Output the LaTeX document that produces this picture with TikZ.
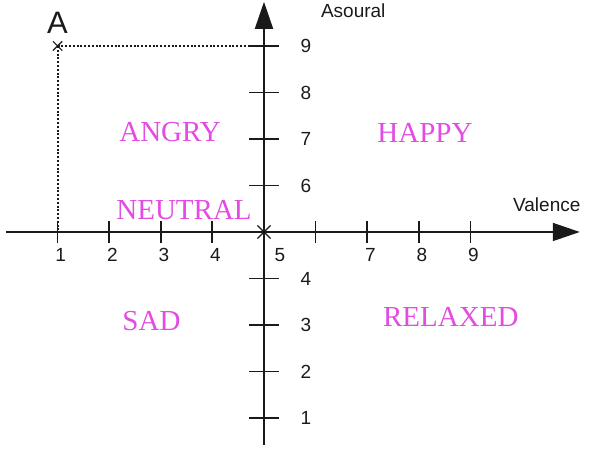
\documentclass[tikz,border=0pt]{standalone}
\usepackage{fontspec}
\setmainfont{Liberation Serif}
\newfontfamily\axisfont{Liberation Sans}
\usepackage{xcolor}
\definecolor{cMood}{HTML}{E34BE3}
\definecolor{cAxis}{HTML}{1A1A1A}
\usetikzlibrary{arrows.meta,shapes.misc}
\tikzset{
  axis-line/.style={draw=cAxis,line width=0.9pt,-{Triangle[length=13.5pt,width=9pt]}},
  axis-tick/.style={draw=cAxis,line width=0.9pt},
  axis-num/.style={font=\axisfont\fontsize{9.5}{10}\selectfont,text=cAxis,inner sep=0pt},
  axis-title/.style={font=\axisfont\fontsize{9.5}{11}\selectfont,text=cAxis,inner sep=0pt},
  mood/.style={font=\fontsize{14.5}{16}\selectfont,text=cMood,inner sep=0pt},
  guide/.style={draw=cAxis,line width=1pt,dash pattern=on 1pt off 0.9pt},
  mark-x/.style={cross out,draw=cAxis,line width=0.6pt,inner sep=0pt,minimum size=#1},
}

\begin{document}
\begin{tikzpicture}[x=25.8pt,y=23.25pt]
  \useasboundingbox (-0.116,0.312) rectangle (11.318,9.989);
  % axes
  \coordinate (v-start) at (0,5);
  \coordinate (v-end) at (11.12,5);
  \coordinate (a-start) at (5,0.42);
  \coordinate (a-end) at (5,9.95);
  \draw[axis-line] (v-start) -- (v-end);
  \draw[axis-line] (a-start) -- (a-end);
  \foreach \v in {1,2,3,4,6,7,8,9} \draw[axis-tick] (\v,4.76) -- (\v,5.24);
  \foreach \v in {1,2,3,4,7,8,9} \node[axis-num] at (\v+0.06,4.51) {\v};
  \foreach \a in {1,2,3,4,6,7,8,9} {
    \draw[axis-tick] (4.71,\a) -- (5.29,\a);
    \node[axis-num] at (5.81,\a) {\a};
  }
  \node[axis-num] (five) at (5.31,4.51) {5};
  \node[mark-x=6pt] (origin) at (5,5) {};
  \node[axis-title] (asoural) at (6.73,9.753) {Asoural};
  \node[axis-title] (valence) at (10.48,5.58) {Valence};
  % point A
  \node[mark-x=4pt] (pt-a) at (1,9) {};
  \node[font=\axisfont\fontsize{15.5}{16}\selectfont,text=cAxis,inner sep=0pt] (lbl-a) at (1,9.505) {A};
  \coordinate (a-nine) at (5,9);
  \coordinate (v-one) at (1,5);
  \draw[guide] (pt-a.center) -- (a-nine);
  \draw[guide] (pt-a.center) -- (v-one);
  % moods
  \node[mood] (angry) at (3.18,7.16) {ANGRY};
  \node[mood] (happy) at (8.12,7.12) {HAPPY};
  \node[mood] (neutral) at (3.45,5.48) {NEUTRAL};
  \node[mood] (sad) at (2.82,3.08) {SAD};
  \node[mood] (relaxed) at (8.62,3.17) {RELAXED};
\end{tikzpicture}
\end{document}
